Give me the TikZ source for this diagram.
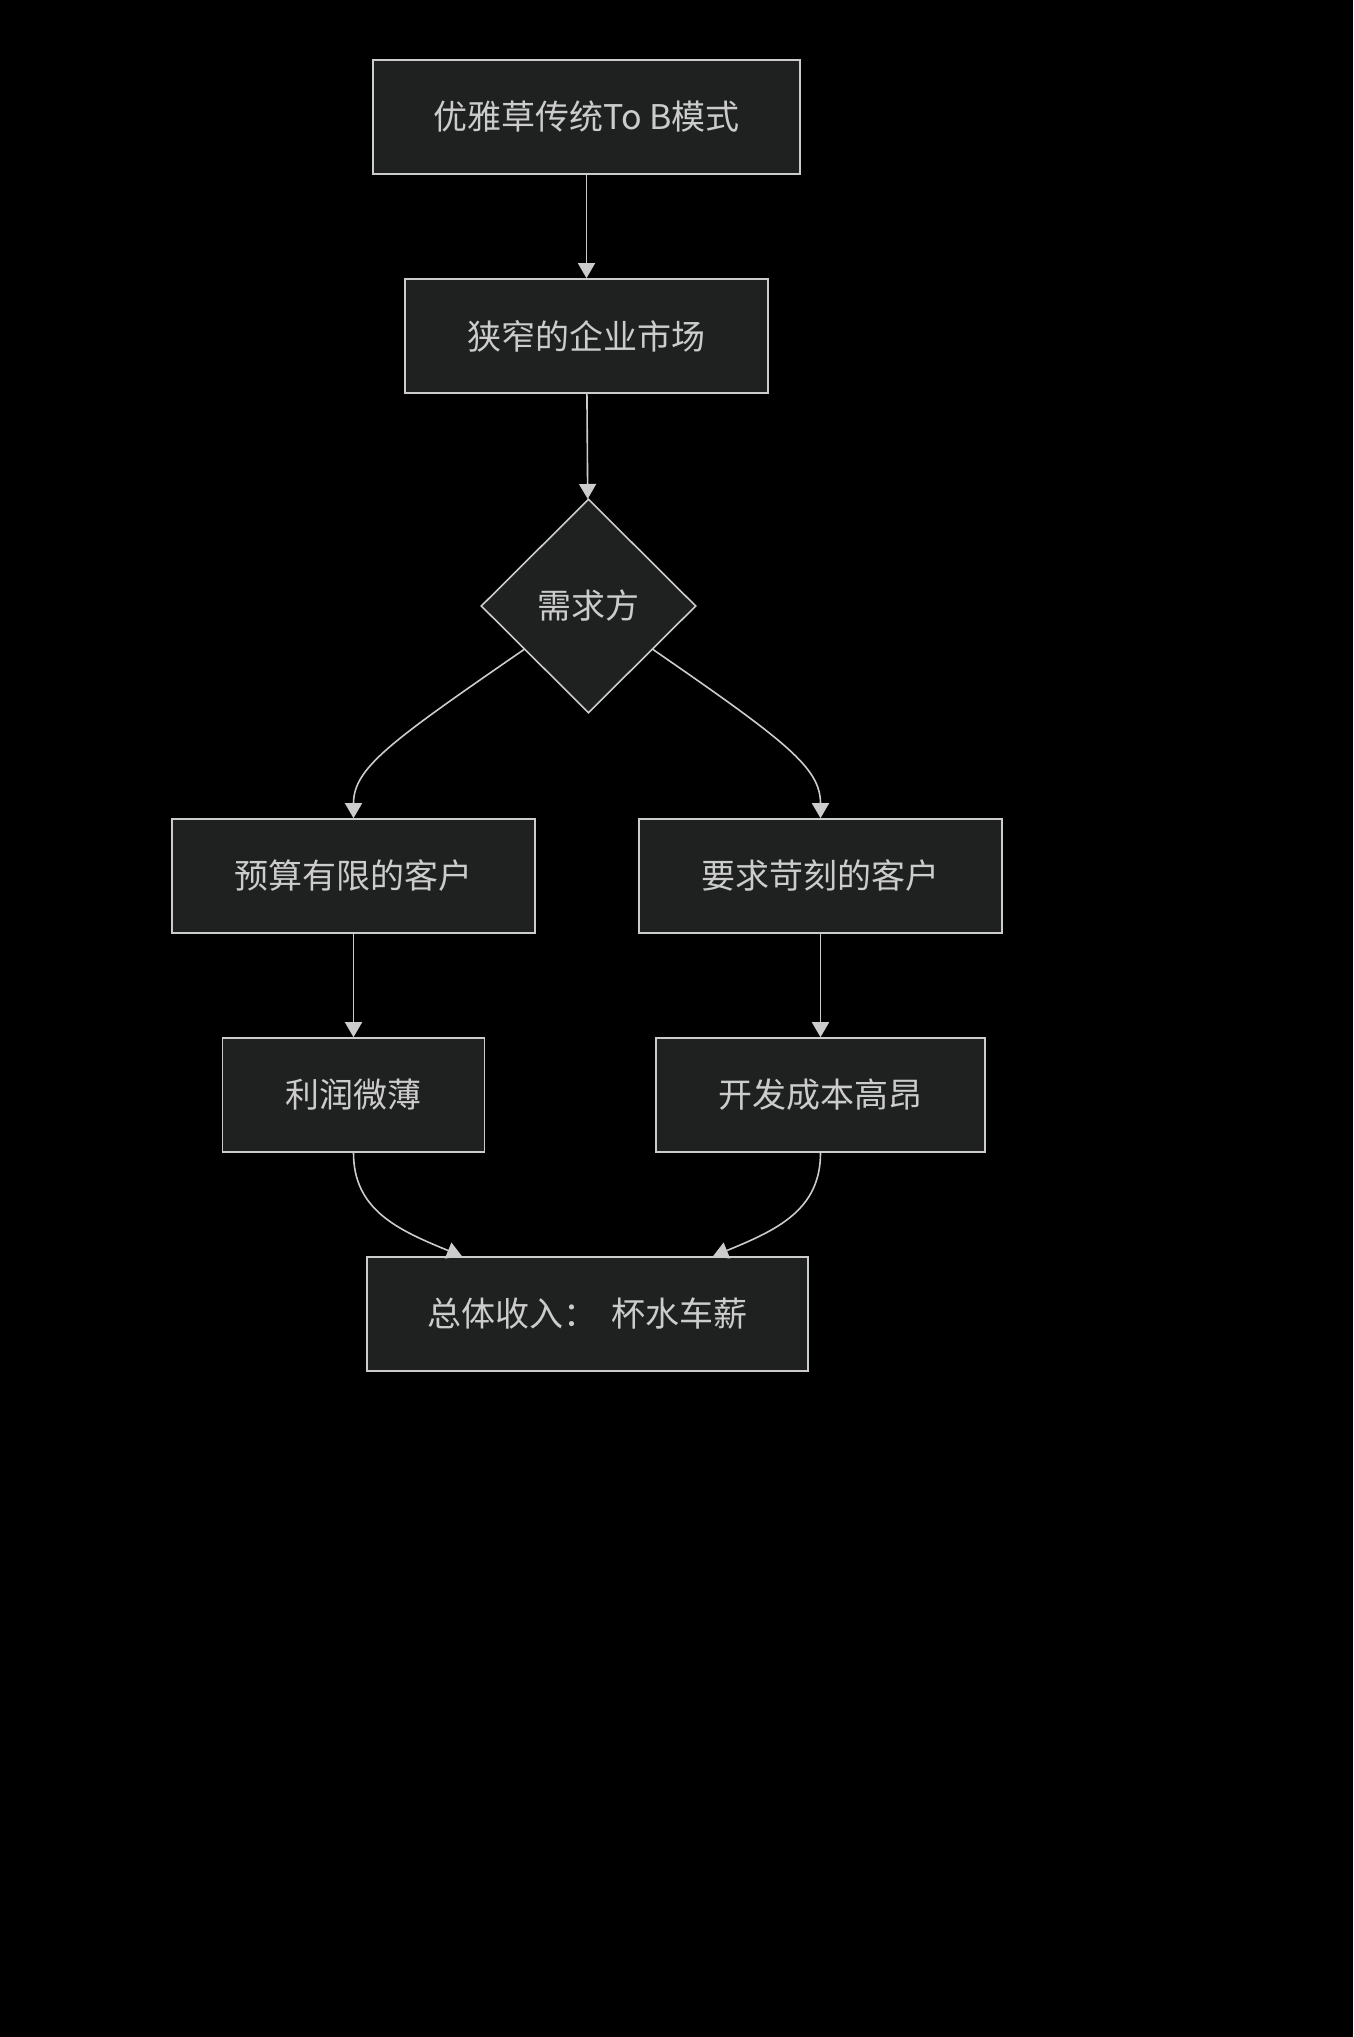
\documentclass[tikz,border=0pt]{standalone}
\usepackage{fontspec}
\usepackage{tikz}
\usepackage{xcolor}
\usetikzlibrary{arrows.meta,positioning,shapes.geometric}
\newfontfamily\cjk{Noto Sans CJK SC}
\definecolor{boxfill}{HTML}{1F2020}
\definecolor{edgegray}{HTML}{CCCCCC}

\begin{document}
\begin{tikzpicture}[
  x=1pt, y=-1pt,
  box/.style={draw=edgegray, line width=1.6pt, fill=boxfill, text=edgegray, inner sep=0pt,
    minimum height=114pt, font=\cjk\fontsize{34}{40}\selectfont},
  choice/.style={box, diamond, minimum width=215pt, minimum height=214pt},
  arrow/.style={-{Triangle[length=15pt, width=17pt]}, line width=1.6pt, draw=edgegray}
]
\fill[black] (0,0) rectangle (1353,2037);
\useasboundingbox (0,0) rectangle (1353,2037);

\node[box, minimum width=427pt] (model) at (586.5,117) {优雅草传统To B模式};
\node[box, minimum width=363pt] (market) at (586.5,336) {狭窄的企业市场};
\node[choice] (demand) at (588.5,606) {需求方};
\node[box, minimum width=363pt] (budget) at (353.5,876) {预算有限的客户};
\node[box, minimum width=363pt] (strict) at (820.5,876) {要求苛刻的客户};
\node[box, minimum width=262pt] (profit) at (353.5,1095) {利润微薄};
\node[box, minimum width=329pt] (cost) at (820.5,1095) {开发成本高昂};
\node[box, minimum width=441pt] (income) at (587.5,1314) {总体收入：\hspace{0.4em}杯水车薪};

\draw[arrow] (model) -- (market);
\draw[arrow] (market) -- (demand);
\draw[arrow] (demand.214) .. controls (390,742) and (353.5,768) .. (budget.north);
\draw[arrow] (demand.326) .. controls (787,742) and (820.5,768) .. (strict.north);
\draw[arrow] (budget) -- (profit);
\draw[arrow] (strict) -- (cost);
\draw[arrow] (profit.south) .. controls (353.5,1210) and (398,1230) .. (income.north -| 462,0);
\draw[arrow] (cost.south) .. controls (820.5,1210) and (777,1230) .. (income.north -| 713,0);
\end{tikzpicture}
\end{document}
